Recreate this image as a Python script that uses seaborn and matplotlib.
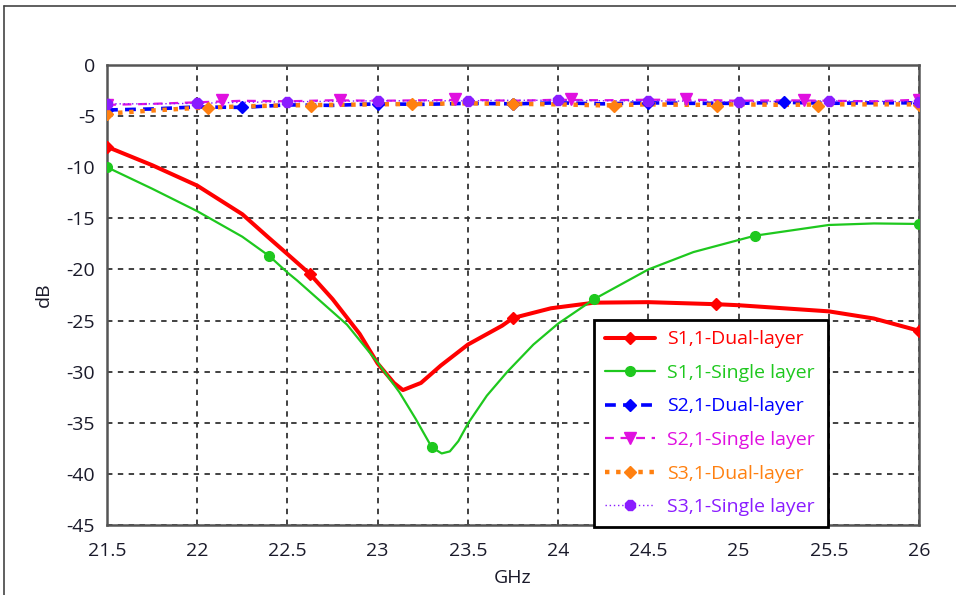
import matplotlib
matplotlib.use("Agg")
import matplotlib.pyplot as plt
from matplotlib.lines import Line2D
import seaborn as sns

# ---- S1,1 dual-layer (curve + marker points) ----
f_s11_dual = [21.5, 21.75, 22.0, 22.25, 22.39, 22.5, 22.625, 22.75, 22.9, 23.0, 23.09,
              23.14, 23.24, 23.35, 23.5, 23.69, 23.75, 23.96, 24.2, 24.5, 24.875, 25.0,
              25.5, 25.75, 26.0]
db_s11_dual = [-8.0, -9.8, -11.8, -14.6, -16.8, -18.5, -20.45, -22.9, -26.3, -29.2, -31.1,
               -31.8, -31.1, -29.4, -27.35, -25.5, -24.75, -23.8, -23.25, -23.2, -23.4, -23.5,
               -24.1, -24.8, -26.0]
mf_s11_dual = [21.5, 22.625, 23.75, 24.875, 26.0]
mdb_s11_dual = [-8.0, -20.45, -24.75, -23.4, -26.0]

# ---- S1,1 single layer ----
f_s11_single = [21.5, 21.75, 22.0, 22.25, 22.4, 22.5, 22.555, 22.83, 23.0, 23.12, 23.21,
                23.3, 23.355, 23.4, 23.447, 23.503, 23.605, 23.719, 23.863, 24.0, 24.2,
                24.5, 24.75, 25.09, 25.5, 25.75, 26.0]
db_s11_single = [-10.0, -12.1, -14.3, -16.8, -18.7, -20.3, -21.1, -25.4, -29.1, -32.0, -34.6,
                 -37.4, -38.0, -37.8, -36.8, -35.0, -32.35, -30.0, -27.35, -25.3, -22.9,
                 -20.0, -18.3, -16.7, -15.65, -15.5, -15.55]
mf_s11_single = [21.5, 22.4, 23.3, 24.2, 25.09, 26.0]
mdb_s11_single = [-10.0, -18.7, -37.4, -22.9, -16.7, -15.55]

# ---- common frequency grid of the transmission curves ----
f_grid = [21.5, 21.75, 22.0, 22.25, 22.5, 22.75, 23.0, 23.25, 23.5, 23.75, 24.0,
          24.25, 24.5, 24.75, 25.0, 25.25, 25.5, 25.75, 26.0]

# ---- S2,1 dual-layer ----
db_s21_dual = [-4.4, -4.3, -4.1, -4.15, -3.9, -3.95, -3.8, -3.85, -3.75, -3.8, -3.7,
               -3.8, -3.7, -3.75, -3.75, -3.65, -3.75, -3.7, -3.7]
mf_s21_dual = [21.5, 22.25, 23.0, 23.75, 24.5, 25.25, 26.0]
mdb_s21_dual = [-4.4, -4.15, -3.8, -3.8, -3.7, -3.65, -3.7]

# ---- S2,1 single layer ----
db_s21_single = [-3.9, -3.8, -3.65, -3.5, -3.55, -3.45, -3.5, -3.45, -3.4, -3.5, -3.4,
                 -3.45, -3.4, -3.4, -3.5, -3.45, -3.5, -3.55, -3.4]
mf_s21_single = [21.5, 22.14, 22.79, 23.43, 24.07, 24.71, 25.36, 26.0]
mdb_s21_single = [-3.9, -3.45, -3.4, -3.3, -3.35, -3.35, -3.4, -3.45]

# ---- S3,1 dual-layer ----
db_s31_dual = [-4.75, -4.45, -4.2, -4.05, -3.95, -3.9, -3.85, -3.8, -3.75, -3.8, -3.85,
               -3.95, -3.85, -3.9, -3.85, -3.9, -3.85, -3.85, -3.85]
mf_s31_dual = [21.5, 22.06, 22.63, 23.19, 23.75, 24.31, 24.88, 25.44, 26.0]
mdb_s31_dual = [-4.8, -4.25, -4.0, -3.8, -3.8, -4.0, -4.0, -4.0, -3.9]

# ---- S3,1 single layer ----
db_s31_single = [-3.8, -3.8, -3.75, -3.65, -3.6, -3.55, -3.5, -3.5, -3.5, -3.45, -3.45,
                 -3.5, -3.5, -3.55, -3.6, -3.55, -3.5, -3.55, -3.6]
mf_s31_single = [21.5, 22.0, 22.5, 23.0, 23.5, 24.0, 24.5, 25.0, 25.5, 26.0]
mdb_s31_single = [-3.8, -3.75, -3.6, -3.5, -3.5, -3.45, -3.5, -3.6, -3.5, -3.6]

x_ticks = [21.5, 22.0, 22.5, 23.0, 23.5, 24.0, 24.5, 25.0, 25.5, 26.0]
x_tick_labels = ["21.5", "22", "22.5", "23", "23.5", "24", "24.5", "25", "25.5", "26"]
y_ticks = [0, -5, -10, -15, -20, -25, -30, -35, -40, -45]

series = [
    dict(label="S1,1-Dual-layer", f=f_s11_dual, db=db_s11_dual, mf=mf_s11_dual, mdb=mdb_s11_dual,
         color="#ff0000", ls="-", lw=2.9, marker="D", ms=6.5),
    dict(label="S1,1-Single layer", f=f_s11_single, db=db_s11_single, mf=mf_s11_single, mdb=mdb_s11_single,
         color="#1ec81e", ls="-", lw=1.6, marker="o", ms=7),
    dict(label="S2,1-Dual-layer", f=f_grid, db=db_s21_dual, mf=mf_s21_dual, mdb=mdb_s21_dual,
         color="#0000ff", ls=(0, (3, 2)), lw=2.6, marker="D", ms=6.5),
    dict(label="S2,1-Single layer", f=f_grid, db=db_s21_single, mf=mf_s21_single, mdb=mdb_s21_single,
         color="#e010e0", ls=(0, (4, 3)), lw=1.6, marker="v", ms=8),
    dict(label="S3,1-Dual-layer", f=f_grid, db=db_s31_dual, mf=mf_s31_dual, mdb=mdb_s31_dual,
         color="#ff8010", ls=(0, (1, 1.5)), lw=3.2, marker="D", ms=6.5),
    dict(label="S3,1-Single layer", f=f_grid, db=db_s31_single, mf=mf_s31_single, mdb=mdb_s31_single,
         color="#8a1cff", ls=(0, (1, 2)), lw=1.0, marker="8", ms=8),
]

sns.set_style("white")
plt.rcParams["font.family"] = ["Open Sans", "DejaVu Sans"]
plt.rcParams["axes.unicode_minus"] = False

fig = plt.figure(figsize=(9.56, 5.95), dpi=100)
ax = fig.add_axes([107 / 956, 1 - 525 / 595, 812 / 956, 460 / 595])

handles = []
for s in series:
    sns.lineplot(x=s["f"], y=s["db"], ax=ax, color=s["color"], linestyle=s["ls"],
                 linewidth=s["lw"], sort=False, estimator=None, legend=False, zorder=3)
    ax.plot(s["mf"], s["mdb"], linestyle="none", marker=s["marker"], markersize=s["ms"],
            color=s["color"], markeredgecolor=s["color"], zorder=4)
    handles.append(Line2D([], [], color=s["color"], linestyle=s["ls"], linewidth=s["lw"],
                          marker=s["marker"], markersize=s["ms"], markeredgecolor=s["color"],
                          label=s["label"]))

ax.set_xlim(21.5, 26)
ax.set_ylim(-45, 0)
ax.set_xticks(x_ticks)
ax.set_xticklabels(x_tick_labels)
ax.set_yticks(y_ticks)
ax.grid(True, color="#333333", linestyle=(0, (3, 3)), linewidth=1.3)
ax.set_axisbelow(True)
for sp in ax.spines.values():
    sp.set_color("#555555")
    sp.set_linewidth(1.8)
ax.tick_params(axis="both", which="major", direction="inout", length=9, width=1.5,
               color="#444444", labelsize=14, labelcolor="#1a1a2a", pad=4)
ax.tick_params(axis="x", pad=8)
ax.set_xlabel("GHz", fontsize=14, color="#1a1a2a", labelpad=6)
ax.set_ylabel("dB", fontsize=14, color="#1a1a2a", labelpad=10)

leg = ax.legend(handles=handles, loc="lower left", bbox_to_anchor=(0.600, -0.004, 0.288, 0.45),
                mode="expand", borderaxespad=0, fontsize=14, handlelength=2.6, handletextpad=0.6,
                labelspacing=0.8, frameon=True, fancybox=False, framealpha=1, borderpad=0.55)
leg.get_frame().set_edgecolor("black")
leg.get_frame().set_linewidth(2.0)
leg.set_zorder(10)
for txt, s in zip(leg.get_texts(), series):
    txt.set_color(s["color"])

# outer frame lines
fig.add_artist(Line2D([4 / 956, 4 / 956], [0, 1 - 6 / 595], color="#444444", linewidth=1.2))
fig.add_artist(Line2D([4 / 956, 1], [1 - 6 / 595, 1 - 6 / 595], color="#444444", linewidth=1.2))

fig.savefig("out.png", dpi=100)
